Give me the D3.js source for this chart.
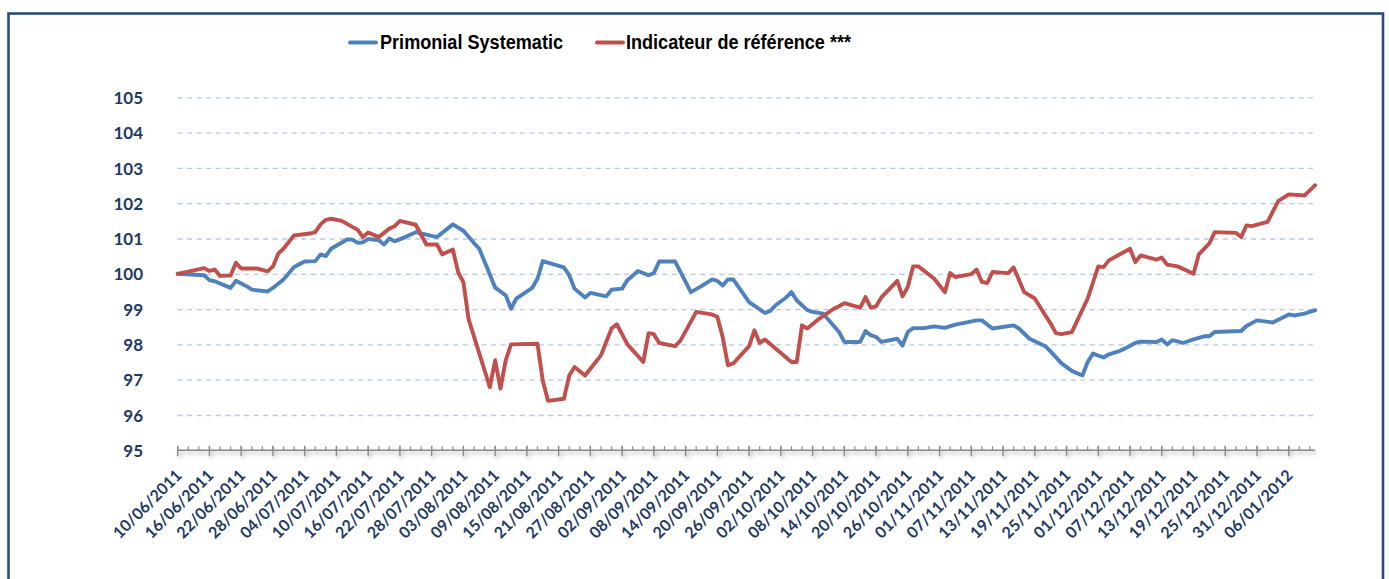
<!DOCTYPE html>
<html>
<head>
<meta charset="utf-8">
<script src="https://cdn.jsdelivr.net/npm/d3@7"></script>
<style>
  html, body { margin: 0; padding: 0; background: #ffffff; }
  svg { display: block; }
</style>
</head>
<body>
<svg id="chart" width="1389" height="579"></svg>
<script>
// ---------------- DATA ----------------
const seriesNames = ["Primonial Systematic", "Indicateur de référence ***"];

const yTicks = [95, 96, 97, 98, 99, 100, 101, 102, 103, 104, 105];

const xTickLabels = ["10/06/2011","16/06/2011","22/06/2011","28/06/2011","04/07/2011","10/07/2011",
  "16/07/2011","22/07/2011","28/07/2011","03/08/2011","09/08/2011","15/08/2011","21/08/2011",
  "27/08/2011","02/09/2011","08/09/2011","14/09/2011","20/09/2011","26/09/2011","02/10/2011",
  "08/10/2011","14/10/2011","20/10/2011","26/10/2011","01/11/2011","07/11/2011","13/11/2011",
  "19/11/2011","25/11/2011","01/12/2011","07/12/2011","13/12/2011","19/12/2011","25/12/2011",
  "31/12/2011","06/01/2012"];

const axisStart = "10/06/2011";
const axisEnd = "11/01/2012";

const primonialDates = ["10/06/2011","15/06/2011","16/06/2011","17/06/2011","20/06/2011","21/06/2011",
  "23/06/2011","24/06/2011","27/06/2011","28/06/2011","30/06/2011","02/07/2011","04/07/2011",
  "06/07/2011","07/07/2011","08/07/2011","09/07/2011","12/07/2011","13/07/2011","14/07/2011",
  "15/07/2011","16/07/2011","18/07/2011","19/07/2011","20/07/2011","21/07/2011","23/07/2011",
  "25/07/2011","27/07/2011","29/07/2011","01/08/2011","03/08/2011","05/08/2011","06/08/2011",
  "09/08/2011","11/08/2011","12/08/2011","13/08/2011","16/08/2011","17/08/2011","18/08/2011",
  "22/08/2011","23/08/2011","24/08/2011","26/08/2011","27/08/2011","30/08/2011","31/08/2011",
  "02/09/2011","03/09/2011","05/09/2011","07/09/2011","08/09/2011","09/09/2011","12/09/2011",
  "15/09/2011","17/09/2011","19/09/2011","20/09/2011","21/09/2011","22/09/2011","23/09/2011",
  "26/09/2011","29/09/2011","30/09/2011","01/10/2011","03/10/2011","04/10/2011","05/10/2011",
  "07/10/2011","08/10/2011","10/10/2011","11/10/2011","13/10/2011","14/10/2011","17/10/2011",
  "18/10/2011","19/10/2011","20/10/2011","21/10/2011","24/10/2011","25/10/2011","26/10/2011",
  "27/10/2011","29/10/2011","31/10/2011","02/11/2011","04/11/2011","08/11/2011","09/11/2011",
  "11/11/2011","15/11/2011","16/11/2011","18/11/2011","21/11/2011","23/11/2011","24/11/2011",
  "26/11/2011","28/11/2011","29/11/2011","30/11/2011","02/12/2011","03/12/2011","05/12/2011",
  "06/12/2011","08/12/2011","09/12/2011","12/12/2011","13/12/2011","14/12/2011","15/12/2011",
  "17/12/2011","19/12/2011","21/12/2011","22/12/2011","23/12/2011","28/12/2011","29/12/2011",
  "31/12/2011","03/01/2012","06/01/2012","07/01/2012","09/01/2012","11/01/2012"];

const primonialValues = [100.00,99.96,99.82,99.79,99.60,99.80,
  99.65,99.55,99.50,99.60,99.84,100.19,100.35,
  100.36,100.55,100.50,100.71,100.97,100.97,100.88,
  100.89,100.99,100.95,100.83,101.00,100.92,101.04,
  101.18,101.11,101.04,101.40,101.22,100.87,100.71,
  99.61,99.39,99.01,99.30,99.60,99.86,100.36,
  100.18,99.96,99.58,99.33,99.46,99.36,99.55,
  99.58,99.82,100.08,99.96,100.02,100.35,100.35,
  99.48,99.65,99.84,99.80,99.67,99.84,99.84,
  99.20,98.89,98.95,99.11,99.33,99.48,99.25,
  98.97,98.92,98.87,98.70,98.35,98.07,98.07,
  98.38,98.26,98.21,98.07,98.16,97.97,98.35,
  98.46,98.46,98.51,98.47,98.56,98.68,98.68,
  98.45,98.54,98.45,98.16,97.95,97.64,97.47,
  97.25,97.12,97.50,97.74,97.63,97.72,97.81,
  97.88,98.04,98.08,98.07,98.14,98.00,98.12,
  98.04,98.14,98.23,98.23,98.35,98.38,98.52,
  98.68,98.62,98.85,98.82,98.87,98.97];

const indicateurDates = ["10/06/2011","15/06/2011","16/06/2011","17/06/2011","18/06/2011","20/06/2011",
  "21/06/2011","22/06/2011","25/06/2011","27/06/2011","28/06/2011","29/06/2011","30/06/2011",
  "02/07/2011","05/07/2011","06/07/2011","07/07/2011","08/07/2011","09/07/2011","11/07/2011",
  "13/07/2011","14/07/2011","15/07/2011","16/07/2011","18/07/2011","20/07/2011","21/07/2011",
  "22/07/2011","25/07/2011","27/07/2011","29/07/2011","30/07/2011","01/08/2011","02/08/2011",
  "03/08/2011","04/08/2011","08/08/2011","09/08/2011","10/08/2011","11/08/2011","12/08/2011",
  "17/08/2011","18/08/2011","19/08/2011","22/08/2011","23/08/2011","24/08/2011","26/08/2011",
  "27/08/2011","29/08/2011","31/08/2011","01/09/2011","03/09/2011","06/09/2011","07/09/2011",
  "08/09/2011","09/09/2011","12/09/2011","13/09/2011","16/09/2011","19/09/2011","20/09/2011",
  "21/09/2011","22/09/2011","23/09/2011","26/09/2011","27/09/2011","28/09/2011","29/09/2011",
  "04/10/2011","05/10/2011","06/10/2011","07/10/2011","09/10/2011","12/10/2011","13/10/2011",
  "14/10/2011","17/10/2011","18/10/2011","19/10/2011","20/10/2011","21/10/2011","24/10/2011",
  "25/10/2011","26/10/2011","27/10/2011","28/10/2011","31/10/2011","02/11/2011","03/11/2011",
  "04/11/2011","07/11/2011","08/11/2011","09/11/2011","10/11/2011","11/11/2011","14/11/2011",
  "15/11/2011","17/11/2011","19/11/2011","21/11/2011","22/11/2011","23/11/2011","24/11/2011",
  "26/11/2011","29/11/2011","01/12/2011","02/12/2011","03/12/2011","07/12/2011","08/12/2011",
  "09/12/2011","12/12/2011","13/12/2011","14/12/2011","16/12/2011","19/12/2011","20/12/2011",
  "22/12/2011","23/12/2011","27/12/2011","28/12/2011","29/12/2011","30/12/2011","02/01/2012",
  "04/01/2012","06/01/2012","09/01/2012","11/01/2012"];

const indicateurValues = [100.00,100.16,100.08,100.12,99.94,99.95,
  100.31,100.15,100.15,100.07,100.21,100.57,100.71,
  101.09,101.14,101.18,101.40,101.53,101.56,101.50,
  101.33,101.25,101.04,101.17,101.04,101.28,101.35,
  101.50,101.39,100.83,100.83,100.55,100.69,100.05,
  99.76,98.70,96.79,97.55,96.75,97.55,98.00,
  98.02,96.98,96.40,96.46,97.12,97.36,97.12,
  97.31,97.69,98.45,98.57,98.00,97.50,98.32,
  98.29,98.04,97.95,98.10,98.92,98.85,98.78,
  98.21,97.41,97.46,97.95,98.40,98.04,98.14,
  97.50,97.50,98.54,98.45,98.70,99.01,99.08,
  99.17,99.04,99.34,99.04,99.08,99.33,99.80,
  99.36,99.63,100.21,100.21,99.86,99.48,100.02,
  99.91,99.99,100.12,99.77,99.74,100.05,100.02,
  100.18,99.48,99.30,98.82,98.59,98.32,98.29,
  98.35,99.30,100.21,100.19,100.38,100.71,100.33,
  100.52,100.40,100.46,100.26,100.21,100.00,100.55,
  100.86,101.18,101.16,101.04,101.37,101.35,101.47,
  102.06,102.25,102.22,102.51];

const seriesColors = ["#4F81BD", "#C0504D"];

// ---------------- CHART ----------------
const parse = d3.utcParse("%d/%m/%Y");
const svg = d3.select("#chart");

const plotLeft = 177.7, plotRight = 1315.2, plotTop = 97.3, plotBottom = 450.3;

const x = d3.scaleUtc().domain([parse(axisStart), parse(axisEnd)]).range([plotLeft, plotRight]);
const y = d3.scaleLinear().domain([95, 105]).range([plotBottom, plotTop]);

// defs: shadow for axis
const defs = svg.append("defs");
const f = defs.append("filter").attr("id", "axshadow").attr("x", "-5%").attr("y", "-200%").attr("width", "110%").attr("height", "500%");
f.append("feDropShadow").attr("dx", 2).attr("dy", 3).attr("stdDeviation", 2)
  .attr("flood-color", "#000").attr("flood-opacity", 0.28);

// outer frame
svg.append("rect")
  .attr("x", 8.5).attr("y", 13.5).attr("width", 1374.5).attr("height", 620)
  .attr("fill", "none").attr("stroke", "#2b4c7e").attr("stroke-width", 2.6);

// gridlines
svg.append("g")
  .attr("transform", `translate(${plotLeft},0)`)
  .call(d3.axisLeft(y).tickValues(yTicks.filter(v => v > 95)).tickSize(-(1313 - plotLeft)).tickFormat(""))
  .call(g => g.select(".domain").remove())
  .call(g => g.selectAll(".tick line")
    .attr("stroke", "#b5c8e8").attr("stroke-width", 1.3).attr("stroke-dasharray", "5,4.5"));

// y labels
svg.append("g")
  .attr("transform", `translate(143,0)`)
  .call(d3.axisLeft(y).tickValues(yTicks).tickSize(0).tickPadding(0).tickFormat(d3.format("d")))
  .call(g => g.select(".domain").remove())
  .call(g => g.selectAll(".tick text")
    .attr("fill", "#1f3a63")
    .style("font-family", "Lato, 'Open Sans', sans-serif")
    .style("font-weight", "bold")
    .style("font-size", "17px")
    .attr("dy", "0.36em"));

// x axis line + ticks
const startD = parse(axisStart), endD = parse(axisEnd);
const labelDates = xTickLabels.map(parse);
const minorDates = d3.utcDay.range(startD, endD, 2);

const axG = svg.append("g").attr("filter", "url(#axshadow)");
axG.append("line")
  .attr("x1", plotLeft).attr("x2", plotRight).attr("y1", plotBottom).attr("y2", plotBottom)
  .attr("stroke", "#8a8a8a").attr("stroke-width", 1.5);
axG.selectAll("line.minor").data(minorDates).join("line")
  .attr("class", "minor")
  .attr("x1", d => x(d)).attr("x2", d => x(d))
  .attr("y1", plotBottom - 4).attr("y2", plotBottom)
  .attr("stroke", "#8a8a8a").attr("stroke-width", 1.2);
axG.selectAll("line.major").data(labelDates).join("line")
  .attr("class", "major")
  .attr("x1", d => x(d)).attr("x2", d => x(d))
  .attr("y1", plotBottom - 4.5).attr("y2", plotBottom + 6)
  .attr("stroke", "#8a8a8a").attr("stroke-width", 1.4);

// x labels
svg.append("g").selectAll("text").data(labelDates).join("text")
  .attr("transform", d => `translate(${x(d) + 1},${plotBottom + 22}) rotate(-45)`)
  .attr("text-anchor", "end")
  .attr("dy", "0.36em")
  .attr("fill", "#1f3a63")
  .style("font-family", "Lato, 'Open Sans', sans-serif")
  .style("font-weight", "bold")
  .style("font-size", "16px")
  .text(d => d3.utcFormat("%d/%m/%Y")(d));

// lines
const line = d3.line().x(d => x(d.date)).y(d => y(d.value));
const series = [
  primonialDates.map((d, i) => ({ date: parse(d), value: primonialValues[i] })),
  indicateurDates.map((d, i) => ({ date: parse(d), value: indicateurValues[i] }))
];
[0, 1].forEach(i => {
  svg.append("path")
    .datum(series[i])
    .attr("d", line)
    .attr("fill", "none")
    .attr("stroke", seriesColors[i])
    .attr("stroke-width", 3.9)
    .attr("stroke-linejoin", "round")
    .attr("stroke-linecap", "round");
});

// legend
const legendItems = [
  { x1: 350, x2: 376, tx: 380, tl: 183 },
  { x1: 597, x2: 623, tx: 626, tl: 225 }
];
const lg = svg.append("g");
legendItems.forEach((it, i) => {
  lg.append("line")
    .attr("x1", it.x1).attr("x2", it.x2).attr("y1", 42.5).attr("y2", 42.5)
    .attr("stroke", seriesColors[i]).attr("stroke-width", 3.9).attr("stroke-linecap", "round");
  lg.append("text")
    .attr("x", it.tx).attr("y", 48.5)
    .attr("textLength", it.tl).attr("lengthAdjust", "spacingAndGlyphs")
    .style("font-family", "'Liberation Sans', Arial, sans-serif")
    .style("font-weight", "bold")
    .style("font-size", "21px")
    .attr("fill", "#000")
    .text(seriesNames[i]);
});
</script>
</body>
</html>
